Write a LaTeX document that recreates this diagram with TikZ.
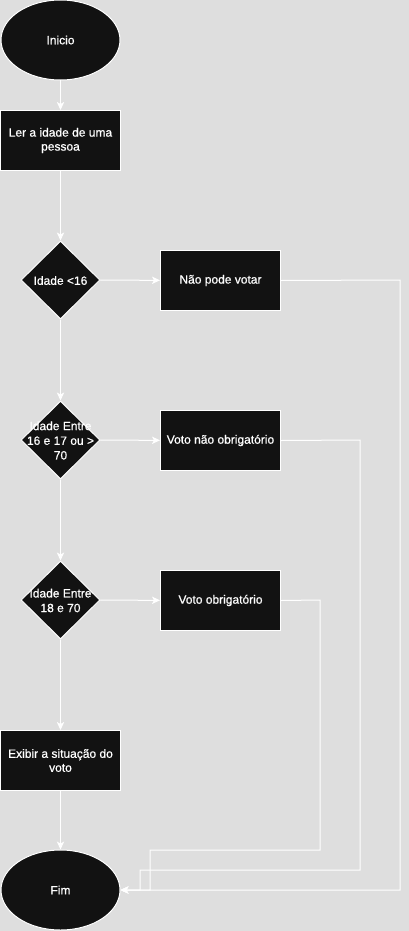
\documentclass[tikz,border=0pt]{standalone}
\usepackage{fontspec}
\setmainfont{Liberation Sans}
\newfontfamily\lbfont[FakeBold=0.7]{Liberation Sans}
\usetikzlibrary{shapes.geometric,arrows.meta}
\definecolor{bgc}{HTML}{DEDEDE}
\definecolor{boxfill}{HTML}{121212}
\begin{document}
\begin{tikzpicture}[x=0.75pt,y=-0.75pt,
  base/.style={draw=white, line width=0.75pt, fill=boxfill, text=white,
    font=\lbfont\fontsize{9}{10.5}\selectfont, align=center, inner sep=0pt},
  term/.style={base, ellipse, minimum width=89.25pt, minimum height=60pt},
  proc/.style={base, rectangle, minimum width=90pt, minimum height=45pt},
  dec/.style={base, diamond, minimum width=59.25pt, minimum height=58.5pt},
  lbl/.style={text=white, font=\lbfont\fontsize{9}{11}\selectfont, align=center, inner sep=0pt},
  conn/.style={draw=white, line width=0.75pt, -{Stealth[length=6pt,width=5.5pt,inset=1.5pt]}},
  wire/.style={draw=white, line width=0.75pt}]
\fill[bgc] (0,0) rectangle (409,931);
\useasboundingbox (0,0) rectangle (409,931);

\node[term] (ini) at (60.5,40) {Inicio};
\node[proc] (ler) at (60.5,140.5) {Ler a idade de uma\\pessoa};
\node[dec] (d1) at (60.5,280) {};
\node[lbl] (t1) at (60.5,280.5) {Idade <16};
\node[proc] (r1) at (220.5,280.5) {Não pode votar};
\node[dec] (d2) at (60.5,440) {};
\node[lbl] (t2) at (60.5,440.5) {Idade Entre\\16 e 17 ou >\\70};
\node[proc] (r2) at (220.5,440.5) {Voto não obrigatório};
\node[dec] (d3) at (60.5,600) {};
\node[lbl] (t3) at (60.5,600.5) {Idade Entre\\18 e 70};
\node[proc] (r3) at (220.5,600.5) {Voto obrigatório};
\node[proc] (exi) at (60.5,760.5) {Exibir a situação do\\voto};
\node[term] (fim) at (60.5,890) {Fim};

\coordinate (a1) at (400,280);
\coordinate (a2) at (400,890);
\coordinate (b1) at (360,440);
\coordinate (b2) at (360,870);
\coordinate (b3) at (140,870);
\coordinate (b4) at (140,890);
\coordinate (c1) at (320,600);
\coordinate (c2) at (320,850);
\coordinate (c3) at (150,850);
\coordinate (c4) at (150,890);

\draw[conn] (ini) -- (ler);
\draw[conn] (ler) -- (d1);
\draw[conn] (d1) -- (r1);
\draw[conn] (d1) -- (d2);
\draw[conn] (d2) -- (r2);
\draw[conn] (d2) -- (d3);
\draw[conn] (d3) -- (r3);
\draw[conn] (d3) -- (exi);
\draw[conn] (exi) -- (fim);

\draw[conn] (r1.east) -- (a1) -- (a2) -- (fim.east);
\draw[conn] (r2.east) -- (b1) -- (b2) -- (b3) -- (b4) -- (fim.east);
\draw[conn] (r3.east) -- (c1) -- (c2) -- (c3) -- (c4) -- (fim.east);
\end{tikzpicture}
\end{document}
